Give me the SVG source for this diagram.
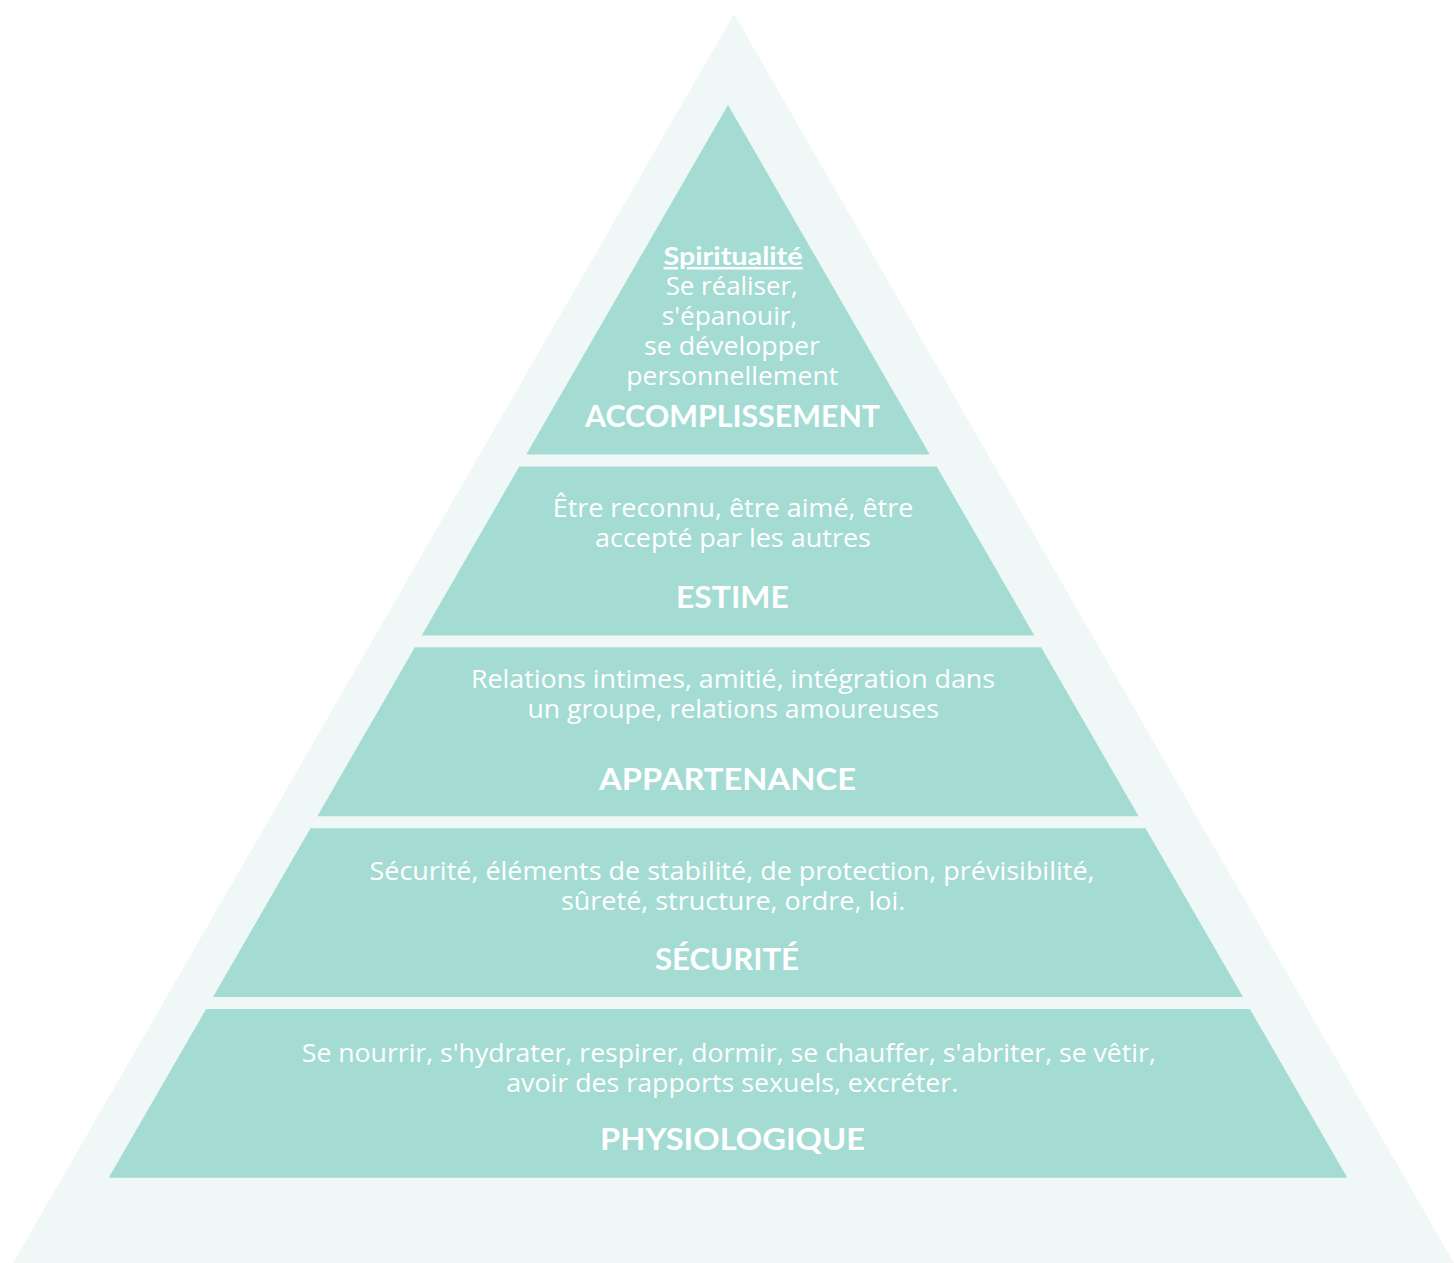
<svg xmlns="http://www.w3.org/2000/svg" width="1454" height="1263" viewBox="0 0 1454 1263">
  <style>
    .outer { fill: #eff8f6; }
    .band { fill: #a4dcd3; }
    .body { font-family: "Open Sans", "Liberation Sans", sans-serif; font-size: 25.5px; fill: #ffffff; text-anchor: middle; }
    .title { font-family: Lato, "Liberation Sans", sans-serif; font-size: 31px; font-weight: bold; fill: #ffffff; text-anchor: middle; }
    .sub { font-family: Lato, "Liberation Sans", sans-serif; font-size: 25px; font-weight: bold; fill: #ffffff; text-anchor: middle; text-decoration: underline; }
  </style>
  <rect width="1454" height="1263" fill="#ffffff"/>
  <polygon class="outer" points="734,14 1454,1263 13,1263"/>

  <g id="accomplissement">
    <polygon class="band" points="728,105 929.8,454.5 526.2,454.5"/>
    <text class="sub" x="733" y="265" textLength="139" lengthAdjust="spacingAndGlyphs">Spiritualité</text>
    <text class="body" x="731.7" y="295" textLength="132" lengthAdjust="spacingAndGlyphs">Se réaliser,</text>
    <text class="body" x="729.5" y="325" textLength="135.6" lengthAdjust="spacingAndGlyphs">s'épanouir,</text>
    <text class="body" x="732" y="355" textLength="176" lengthAdjust="spacingAndGlyphs">se développer</text>
    <text class="body" x="732.2" y="385" textLength="212" lengthAdjust="spacingAndGlyphs">personnellement</text>
    <text class="title" x="732.5" y="427" textLength="295" lengthAdjust="spacingAndGlyphs">ACCOMPLISSEMENT</text>
  </g>

  <g id="estime">
    <polygon class="band" points="519.3,466.5 936.7,466.5 1034.3,635.5 421.7,635.5"/>
    <text class="body" x="733" y="517" textLength="360.6" lengthAdjust="spacingAndGlyphs">Être reconnu, être aimé, être</text>
    <text class="body" x="733" y="547" textLength="276" lengthAdjust="spacingAndGlyphs">accepté par les autres</text>
    <text class="title" x="732.4" y="608" textLength="112.8" lengthAdjust="spacingAndGlyphs">ESTIME</text>
  </g>

  <g id="appartenance">
    <polygon class="band" points="414.9,647.3 1041.1,647.3 1138.7,816.3 317.3,816.3"/>
    <text class="body" x="733" y="688" textLength="524" lengthAdjust="spacingAndGlyphs">Relations intimes, amitié, intégration dans</text>
    <text class="body" x="733.2" y="718" textLength="411.5" lengthAdjust="spacingAndGlyphs">un groupe, relations amoureuses</text>
    <text class="title" x="727.5" y="790" textLength="257" lengthAdjust="spacingAndGlyphs">APPARTENANCE</text>
  </g>

  <g id="securite">
    <polygon class="band" points="310.5,828.2 1145.5,828.2 1243,997 213,997"/>
    <text class="body" x="732" y="880" textLength="725" lengthAdjust="spacingAndGlyphs">Sécurité, éléments de stabilité, de protection, prévisibilité,</text>
    <text class="body" x="733.2" y="910" textLength="344.5" lengthAdjust="spacingAndGlyphs">sûreté, structure, ordre, loi.</text>
    <text class="title" x="727" y="970" textLength="144" lengthAdjust="spacingAndGlyphs">SÉCURITÉ</text>
  </g>

  <g id="physiologique">
    <polygon class="band" points="206.1,1009 1249.9,1009 1347.3,1177.7 108.7,1177.7"/>
    <text class="body" x="728.8" y="1062" textLength="854" lengthAdjust="spacingAndGlyphs">Se nourrir, s'hydrater, respirer, dormir, se chauffer, s'abriter, se vêtir,</text>
    <text class="body" x="732.2" y="1092" textLength="452" lengthAdjust="spacingAndGlyphs">avoir des rapports sexuels, excréter.</text>
    <text class="title" x="732.5" y="1150" textLength="265" lengthAdjust="spacingAndGlyphs">PHYSIOLOGIQUE</text>
  </g>

  <g id="connectors"></g>
</svg>
